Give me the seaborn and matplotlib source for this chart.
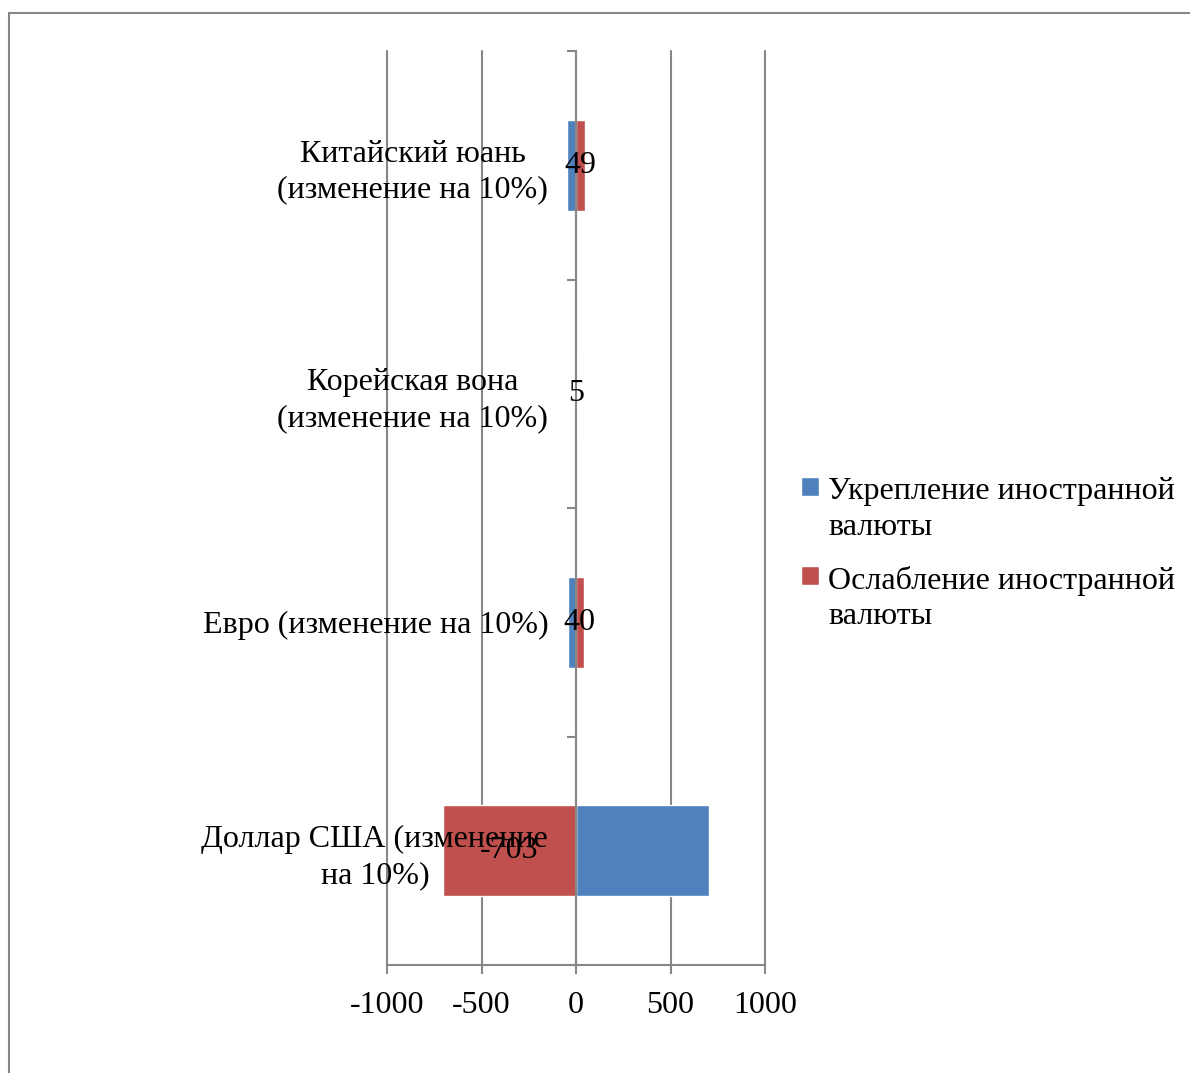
import pandas as pd
import numpy as np
import matplotlib.pyplot as plt
import seaborn as sns
from matplotlib.patches import Rectangle
from matplotlib.legend_handler import HandlerPatch

# ==========================================================
# Data
# ==========================================================

currencies = [
    "Китайский юань\n(изменение на 10%)",
    "Корейская вона\n(изменение на 10%)",
    "Евро (изменение на 10%)",
    "Доллар США (изменение\nна 10%)",
]
strengthening = [-49, -5, -40, 703]
weakening = [49, 5, 40, -703]
series = ["Укрепление иностранной\nвалюты", "Ослабление иностранной\nвалюты"]
colors = ["#4F81BD", "#C0504D"]
xticks = [-1000, -500, 0, 500, 1000]

df = pd.DataFrame({
    "currency": currencies * 2,
    "series": [series[0]] * 4 + [series[1]] * 4,
    "value": strengthening + weakening,
})

# ==========================================================
# Style
# ==========================================================

sns.set_style("white")
plt.rcParams["font.family"] = ["Liberation Serif", "DejaVu Serif"]
plt.rcParams["text.color"] = "black"
plt.rcParams["xtick.labelcolor"] = "black"
plt.rcParams["ytick.labelcolor"] = "black"
grey = "#878787"
fs = 23
ls = 1.3

fig = plt.figure(figsize=(11.9, 10.73), dpi=100)
ax = fig.add_axes([387 / 1190, 1 - 965 / 1073, 378 / 1190, 914 / 1073])

sns.barplot(data=df, x="value", y="currency", hue="series", orient="h",
            dodge=False, width=0.4, palette=colors, saturation=1,
            order=currencies, hue_order=series, ax=ax)

# data labels on the "weakening" series
ax.bar_label(ax.containers[1], fmt="%g", label_type="center", fontsize=fs,
             color="black", zorder=5)

# ==========================================================
# Axes
# ==========================================================

ax.set_xlim(-1000, 1000)
ax.set_ylim(3.5, -0.5)
ax.set_xticks(xticks)
ax.set_xticklabels([str(v) for v in xticks])
ax.set_xlabel("")
ax.set_ylabel("")

ax.set_axisbelow(True)
ax.xaxis.grid(True, color=grey, linewidth=1.5)
for line in ax.get_xgridlines():
    line.set_clip_on(False)
ax.yaxis.set_zorder(3)

for s in ["top", "right"]:
    ax.spines[s].set_visible(False)
ax.spines["left"].set_position(("data", 0))
ax.spines["left"].set_color(grey)
ax.spines["bottom"].set_color(grey)
ax.spines["left"].set_linewidth(1.5)
ax.spines["bottom"].set_linewidth(1.5)

# ticks at category boundaries, labels at category centres
ax.set_yticks([-0.5, 0.5, 1.5, 2.5, 3.5])
ax.set_yticklabels([])
ax.set_yticks(range(len(currencies)), minor=True)
ax.set_yticklabels(currencies, minor=True, fontsize=fs)
for lbl in ax.get_yticklabels(minor=True):
    lbl.set_multialignment("center")
    lbl.set_linespacing(ls)
ax.tick_params(axis="y", which="major", left=True, length=6.5, width=1.5,
               color=grey, direction="out")
ax.tick_params(axis="y", which="minor", left=True, length=0, pad=20)
ax.tick_params(axis="x", bottom=True, length=6.5, width=1.5, color=grey,
               labelsize=fs, pad=12)

# ==========================================================
# Legend
# ==========================================================

def top_square(legend, orig_handle, xdescent, ydescent, width, height, fontsize):
    # align the colour square with the first text line
    return Rectangle((-xdescent, -ydescent + 0.55 * fontsize * ls), width, height)

old = ax.get_legend()
handles = old.legend_handles
old.remove()
leg = fig.legend(handles, series, loc="upper left",
                 bbox_to_anchor=(801 / 1190, 1 - 477 / 1073),
                 frameon=False, fontsize=fs, handlelength=0.55, handleheight=0.55,
                 handletextpad=0.3, labelspacing=0.75, borderpad=0, borderaxespad=0,
                 handler_map={Rectangle: HandlerPatch(patch_func=top_square)})
for t in leg.get_texts():
    t.set_linespacing(ls)

# outer chart border
fig.add_artist(Rectangle((9 / 1190, -0.1), 1.2, 1.1 - 13 / 1073, transform=fig.transFigure,
                         fill=False, edgecolor=grey, linewidth=1.5))

fig.savefig("out.png", dpi=100)
